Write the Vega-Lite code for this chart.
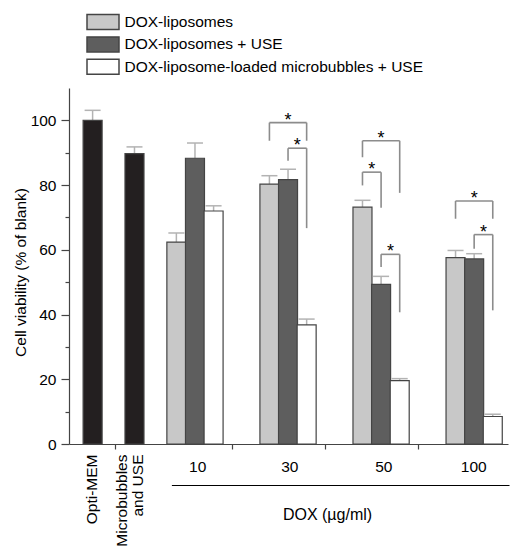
{
  "$schema": "https://vega.github.io/schema/vega-lite/v6.json",
  "autosize": {"type": "none"},
  "padding": {"left": 69, "top": 88, "right": 7, "bottom": 104},
  "width": 439,
  "height": 356,
  "config": {
    "font": "Liberation Sans",
    "view": {"stroke": null},
    "axis": {"grid": false}
  },
  "datasets": {
    "bars": [
      {"group": "Opti-MEM", "series": "Control", "slot": 1.0, "value": 100, "upper": 103.1},
      {"group": "Microbubbles and USE", "series": "Control", "slot": 3.25, "value": 89.7, "upper": 91.8},
      {"group": "10", "series": "DOX-liposomes", "slot": 5.5, "value": 62.4, "upper": 65.2},
      {"group": "10", "series": "DOX-liposomes + USE", "slot": 6.5, "value": 88.3, "upper": 93.0},
      {"group": "10", "series": "DOX-liposome-loaded microbubbles + USE", "slot": 7.5, "value": 72.0, "upper": 73.6},
      {"group": "30", "series": "DOX-liposomes", "slot": 10.5, "value": 80.3, "upper": 82.9},
      {"group": "30", "series": "DOX-liposomes + USE", "slot": 11.5, "value": 81.7, "upper": 84.9},
      {"group": "30", "series": "DOX-liposome-loaded microbubbles + USE", "slot": 12.5, "value": 36.8, "upper": 38.6},
      {"group": "50", "series": "DOX-liposomes", "slot": 15.5, "value": 73.2, "upper": 75.3},
      {"group": "50", "series": "DOX-liposomes + USE", "slot": 16.5, "value": 49.3, "upper": 51.8},
      {"group": "50", "series": "DOX-liposome-loaded microbubbles + USE", "slot": 17.5, "value": 19.6, "upper": 20.2},
      {"group": "100", "series": "DOX-liposomes", "slot": 20.5, "value": 57.6, "upper": 59.8},
      {"group": "100", "series": "DOX-liposomes + USE", "slot": 21.5, "value": 57.2, "upper": 58.8},
      {"group": "100", "series": "DOX-liposome-loaded microbubbles + USE", "slot": 22.5, "value": 8.5, "upper": 9.2}
    ],
    "brackets": [
      {"x1": 10.5, "x2": 12.5, "mid": 11.5, "top": 99.3, "left": 93.7, "right": 93.7, "label": "*"},
      {"x1": 11.5, "x2": 12.5, "mid": 12.0, "top": 91.4, "left": 87.5, "right": 66.7, "label": "*"},
      {"x1": 15.5, "x2": 17.5, "mid": 16.5, "top": 93.7, "left": 88.6, "right": 77.6, "label": "*"},
      {"x1": 15.5, "x2": 16.5, "mid": 16.0, "top": 84.0, "left": 79.9, "right": 73.0, "label": "*"},
      {"x1": 16.5, "x2": 17.5, "mid": 17.0, "top": 58.6, "left": 54.7, "right": 40.7, "label": "*"},
      {"x1": 20.5, "x2": 22.5, "mid": 21.5, "top": 75.1, "left": 69.6, "right": 69.6, "label": "*"},
      {"x1": 21.5, "x2": 22.5, "mid": 22.0, "top": 64.7, "left": 60.3, "right": 41.3, "label": "*"}
    ]
  },
  "resolve": {"axis": {"x": "independent", "y": "independent"}},
  "layer": [
    {
      "data": {"name": "bars"},
      "mark": {"type": "rule", "color": "#b3b3b3", "strokeWidth": 1.5},
      "encoding": {
        "x": {"field": "slot", "type": "quantitative", "axis": null},
        "y": {"field": "value", "type": "quantitative", "axis": null},
        "y2": {"field": "upper"}
      }
    },
    {
      "data": {"name": "bars"},
      "mark": {"type": "tick", "orient": "horizontal", "color": "#b3b3b3", "size": 16, "thickness": 1.5, "opacity": 1},
      "encoding": {
        "x": {"field": "slot", "type": "quantitative", "axis": null},
        "y": {"field": "upper", "type": "quantitative", "axis": null}
      }
    },
    {
      "data": {"name": "bars"},
      "mark": {"type": "bar", "size": 19, "stroke": "#444444", "strokeWidth": 1.2, "opacity": 1},
      "encoding": {
        "x": {
          "field": "slot", "type": "quantitative",
          "scale": {"domain": [0, 23.05], "nice": false, "zero": false},
          "axis": {
            "orient": "bottom", "values": [2.22, 8.5, 13.5, 18.5], "labels": false, "title": null,
            "tickSize": 5, "tickColor": "#444444", "domainColor": "#444444", "domainWidth": 1.2, "tickWidth": 1.2
          }
        },
        "y": {
          "field": "value", "type": "quantitative",
          "scale": {"domain": [0, 110], "nice": false},
          "axis": {
            "orient": "left",
            "values": [0, 10, 20, 30, 40, 50, 60, 70, 80, 90, 100],
            "labelExpr": "datum.value % 20 === 0 ? datum.label : ''",
            "tickSize": {"condition": {"test": "datum.value % 20 === 0", "value": 8}, "value": 4},
            "tickColor": "#444444", "domainColor": "#444444", "domainWidth": 1.2, "tickWidth": 1.2,
            "labelFontSize": 15.5, "labelColor": "#000000", "labelPadding": 5,
            "title": "Cell viability (% of blank)", "titleFontSize": 15.5, "titleFontWeight": "normal",
            "titleColor": "#000000", "titleX": -49, "titleY": 184, "titleBaseline": "middle", "titleAngle": -90
          }
        },
        "fill": {
          "field": "series", "type": "nominal",
          "scale": {
            "domain": ["DOX-liposomes", "DOX-liposomes + USE", "DOX-liposome-loaded microbubbles + USE", "Control"],
            "range": ["#c8c8c8", "#5e5e5e", "#ffffff", "#231f20"]
          },
          "legend": {
            "values": ["DOX-liposomes", "DOX-liposomes + USE", "DOX-liposome-loaded microbubbles + USE"],
            "title": null, "orient": "none", "legendX": 25, "legendY": -75, "padding": 0,
            "symbolType": "M-2,-0.94H2V0.94H-2Z", "symbolSize": 256,
            "symbolStrokeColor": "#444444", "symbolStrokeWidth": 1.5, "symbolOpacity": 1,
            "labelFontSize": 15.5, "labelColor": "#000000", "labelOffset": 12.5, "rowPadding": 0.4,
            "labelLimit": 400
          }
        }
      }
    },
    {
      "data": {"name": "brackets"},
      "mark": {"type": "rule", "color": "#8c8c8c", "strokeWidth": 1.6},
      "encoding": {
        "x": {
          "field": "x1", "type": "quantitative",
          "axis": {
            "orient": "bottom", "values": [0.96, 2.56], "title": null,
            "labelExpr": "datum.value < 2 ? 'Opti-MEM' : ['Microbubbles', 'and USE']",
            "labelAngle": -90, "labelAlign": "right", "labelBaseline": "middle",
            "labelPadding": 10, "labelFontSize": 15.5, "labelLineHeight": 16, "labelColor": "#000000",
            "ticks": false, "tickSize": 0, "domain": false, "labelLimit": 300
          }
        },
        "x2": {"field": "x2"},
        "y": {"field": "top", "type": "quantitative", "axis": null}
      }
    },
    {
      "data": {"name": "brackets"},
      "mark": {"type": "rule", "color": "#8c8c8c", "strokeWidth": 1.6},
      "encoding": {
        "x": {"field": "x1", "type": "quantitative", "axis": null},
        "y": {"field": "top", "type": "quantitative", "axis": null},
        "y2": {"field": "left"}
      }
    },
    {
      "data": {"name": "brackets"},
      "mark": {"type": "rule", "color": "#8c8c8c", "strokeWidth": 1.6},
      "encoding": {
        "x": {"field": "x2", "type": "quantitative", "axis": null},
        "y": {"field": "top", "type": "quantitative", "axis": null},
        "y2": {"field": "right"}
      }
    },
    {
      "data": {"name": "brackets"},
      "mark": {"type": "text", "fontSize": 18, "color": "#000000", "baseline": "alphabetic", "dy": 3},
      "encoding": {
        "x": {
          "field": "mid", "type": "quantitative",
          "axis": {
            "orient": "bottom", "values": [6.62, 11.57, 16.62, 21.45],
            "labelExpr": "datum.value < 9 ? '10' : datum.value < 14 ? '30' : datum.value < 19 ? '50' : '100'",
            "labelFontSize": 15.5, "labelColor": "#000000", "labelPadding": 15, "labelBaseline": "top",
            "ticks": false, "tickSize": 0, "domain": false,
            "title": "DOX (µg/ml)", "titleFontSize": 16, "titleFontWeight": "normal", "titleColor": "#000000",
            "titleX": 258, "titleY": 62, "titleBaseline": "top", "titleAlign": "center"
          }
        },
        "y": {"field": "top", "type": "quantitative", "axis": null},
        "text": {"field": "label"}
      }
    },
    {
      "data": {"values": [{}]},
      "mark": {"type": "rule", "color": "#000000", "strokeWidth": 1.2},
      "encoding": {
        "x": {"datum": 5.26, "type": "quantitative", "axis": null},
        "x2": {"datum": 23.4},
        "y": {"datum": -12.83, "type": "quantitative", "axis": null}
      }
    }
  ]
}
